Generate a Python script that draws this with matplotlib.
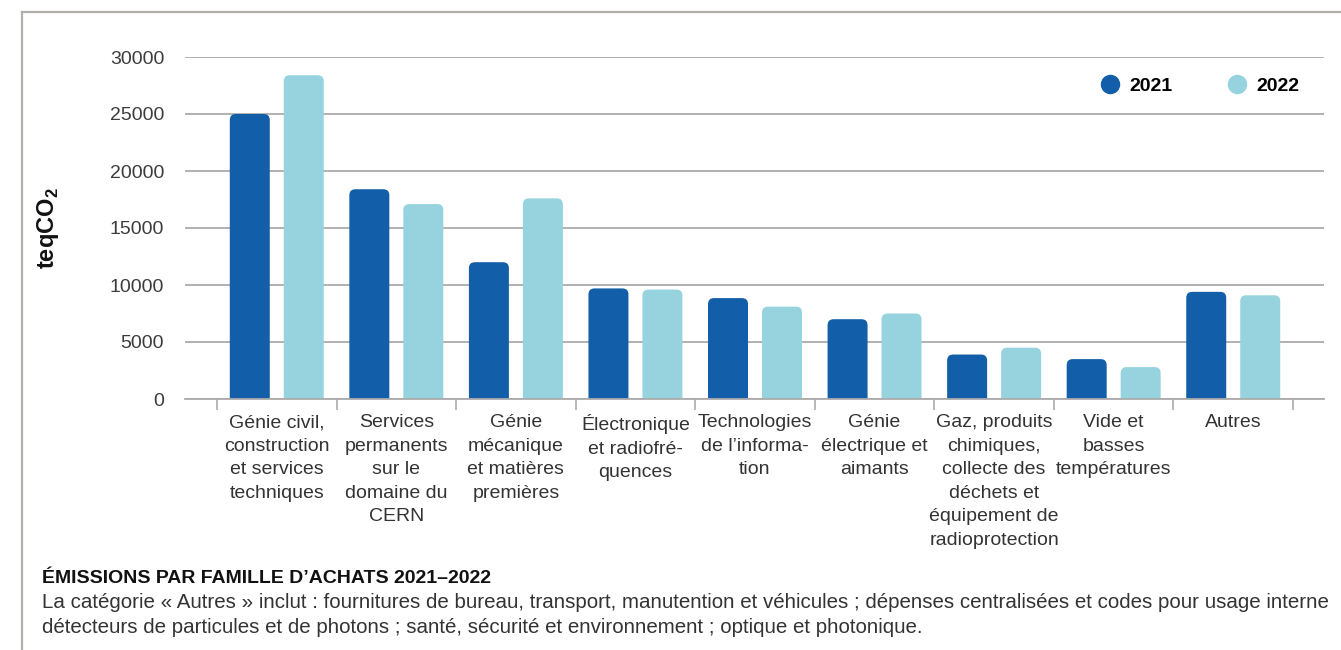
import numpy as np
import matplotlib
matplotlib.use("Agg")
import matplotlib.pyplot as plt
from matplotlib import font_manager
from matplotlib.lines import Line2D
from matplotlib.patches import FancyBboxPatch

# --- data -------------------------------------------------------------------
categories = [
    "Génie civil,\nconstruction\net services\ntechniques",
    "Services\npermanents\nsur le\ndomaine du\nCERN",
    "Génie\nmécanique\net matières\npremières",
    "Électronique\net radiofré-\nquences",
    "Technologies\nde l’informa-\ntion",
    "Génie\nélectrique et\naimants",
    "Gaz, produits\nchimiques,\ncollecte des\ndéchets et\néquipement de\nradioprotection",
    "Vide et\nbasses\ntempératures",
    "Autres",
]
emissions_2021 = [25000, 18400, 12000, 9700, 8850, 7000, 3900, 3500, 9400]
emissions_2022 = [28400, 17100, 17600, 9600, 8100, 7500, 4500, 2800, 9100]
series_labels = ["2021", "2022"]
y_ticks = [0, 5000, 10000, 15000, 20000, 25000, 30000]

title = "ÉMISSIONS PAR FAMILLE D’ACHATS 2021–2022"
note_lines = [
    "La catégorie « Autres » inclut : fournitures de bureau, transport, manutention et véhicules ; "
    "dépenses centralisées et codes pour usage interne",
    "détecteurs de particules et de photons ; santé, sécurité et environnement ; optique et photonique.",
]

# --- style ------------------------------------------------------------------
DARK = "#135EA8"
LIGHT = "#97D3DE"
GRID = "#ababab"
FRAME = "#b3afab"
TEXT = "#333333"

BASE_FONT = "Liberation Sans"
plt.rcParams["font.family"] = [BASE_FONT, "DejaVu Sans"]
plt.rcParams["mathtext.fontset"] = "custom"
plt.rcParams["mathtext.rm"] = BASE_FONT
plt.rcParams["mathtext.bf"] = BASE_FONT + ":bold"


def pick_font(candidates):
    for name in candidates:
        try:
            font_manager.findfont(name, fallback_to_default=False)
            return name
        except Exception:
            continue
    return BASE_FONT


TITLE_FONT = pick_font(["Liberation Sans Narrow", "DejaVu Sans Condensed", BASE_FONT])

W, H = 1341, 650
fig = plt.figure(figsize=(W / 100, H / 100), dpi=100)
ax = fig.add_axes([185 / W, (H - 399) / H, (1324 - 185) / W, (399 - 57) / H])

n = len(categories)
cat_px = 119.6
x = np.arange(n) + 0.5
bar_w = 40 / cat_px
offset = 27 / cat_px

ax.set_xlim(-32 / cat_px, n + 31 / cat_px)
ax.set_ylim(0, 30000)

b1 = ax.bar(x - offset, emissions_2021, bar_w, color=DARK, zorder=2)
b2 = ax.bar(x + offset, emissions_2022, bar_w, color=LIGHT, zorder=2)

# rounded top corners on the bars
ax_w_px = (1324 - 185)
ax_h_px = (399 - 57)
xpp = (ax.get_xlim()[1] - ax.get_xlim()[0]) / ax_w_px
ypp = (ax.get_ylim()[1] - ax.get_ylim()[0]) / ax_h_px
radius_px = 6
rx, ry = radius_px * xpp, radius_px * ypp
for container in (b1, b2):
    for rect in container:
        x0, y0 = rect.get_x(), rect.get_y()
        w, h = rect.get_width(), rect.get_height()
        rect.set_visible(False)
        ax.add_patch(FancyBboxPatch(
            (x0, y0 - ry), w, h + ry,
            boxstyle=f"round,pad=0,rounding_size={rx}",
            mutation_aspect=ry / rx,
            facecolor=rect.get_facecolor(), edgecolor="none", zorder=2))

# grid and axes
ax.set_yticks(y_ticks)
ax.set_yticklabels([str(v) for v in y_ticks])
ax.yaxis.grid(True, color=GRID, linewidth=1.3)
ax.set_axisbelow(True)
for side in ("left", "right", "top"):
    ax.spines[side].set_visible(False)
ax.spines["bottom"].set_color(GRID)
ax.spines["bottom"].set_linewidth(1.3)
ax.tick_params(axis="y", length=0, pad=15, labelsize=14, labelcolor="#3c3c3c")

ax.set_xticks(np.arange(n + 1))
ax.set_xticklabels([])
ax.set_xticks(x, minor=True)
ax.set_xticklabels(categories, minor=True, fontsize=14, color=TEXT,
                   linespacing=1.5, va="top", ha="center")
ax.tick_params(axis="x", which="major", length=8, width=1.2, color=GRID, direction="out")
ax.tick_params(axis="x", which="minor", length=0, pad=11)

# y-axis label
fig.text(48 / W, 1 - 228 / H, r"teqCO$_{\mathbf{2}}$", rotation=90, ha="center",
         va="center", fontsize=17, fontweight="bold", color="#111111")

# legend
handles = [
    Line2D([], [], linestyle="none", marker="o", markersize=13,
           markerfacecolor=c, markeredgecolor=c)
    for c in (DARK, LIGHT)
]
fig.legend(handles, series_labels, loc="center right",
           bbox_to_anchor=(1299 / W, 1 - 86 / H), ncol=2, frameon=False,
           handlelength=1.0, handletextpad=0.5, columnspacing=2.8,
           borderpad=0, borderaxespad=0,
           prop={"family": BASE_FONT, "weight": "bold", "size": 14})

# frame lines
fig.add_artist(Line2D([22 / W, 22 / W], [0, 1 - 12 / H], transform=fig.transFigure,
                      color=FRAME, linewidth=1.6))
fig.add_artist(Line2D([22 / W, 1], [1 - 12 / H, 1 - 12 / H], transform=fig.transFigure,
                      color=FRAME, linewidth=1.6))

# caption
title_size = 16 if TITLE_FONT != BASE_FONT else 14
fig.text(42 / W, 1 - 583 / H, title, fontsize=title_size, fontweight="bold",
         family=[TITLE_FONT, "DejaVu Sans"], color="#111111", va="baseline", ha="left")
fig.text(42 / W, 1 - 608 / H, note_lines[0], fontsize=14.8, color=TEXT,
         va="baseline", ha="left")
fig.text(42 / W, 1 - 633 / H, note_lines[1], fontsize=14.8, color=TEXT,
         va="baseline", ha="left")

fig.savefig("out.png", dpi=100, facecolor="white")
